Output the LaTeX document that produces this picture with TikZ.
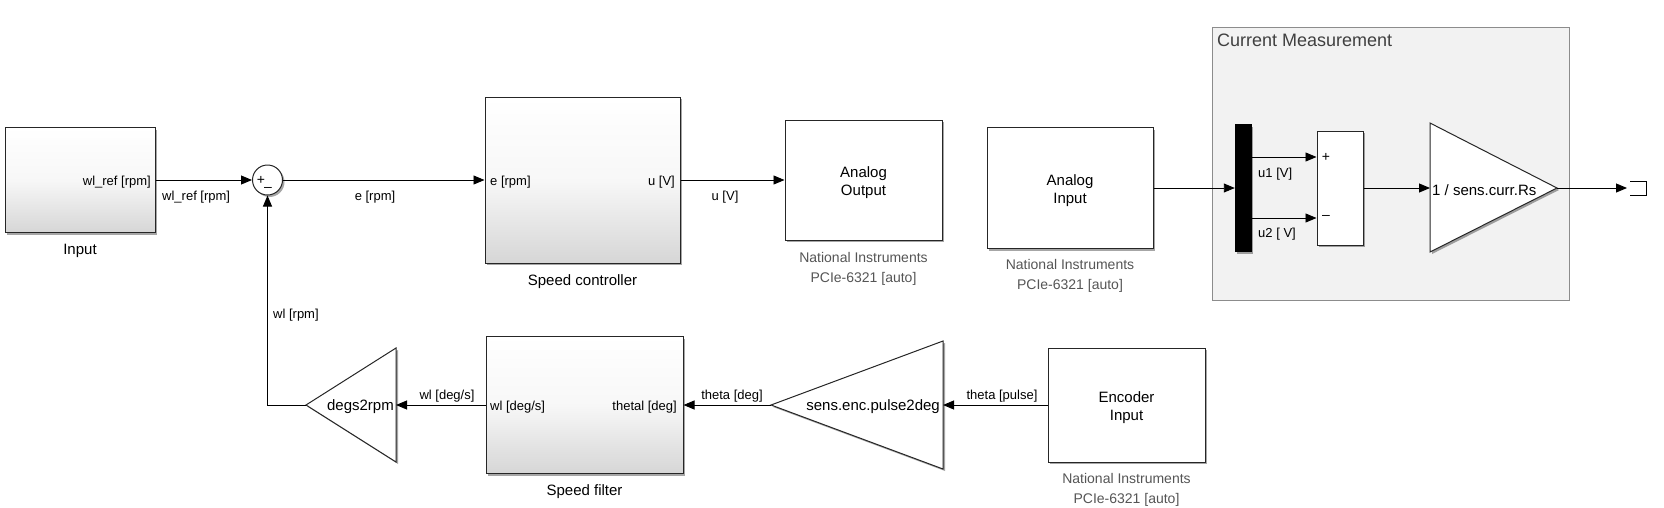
\documentclass[tikz,border=0pt]{standalone}
\usepackage{fontspec}
\setmainfont{Liberation Sans}
\usetikzlibrary{arrows.meta,shadows,calc}
\definecolor{cmfill}{HTML}{F2F2F2}
\definecolor{cmborder}{HTML}{8C8C8C}
\definecolor{nigray}{HTML}{555555}
\definecolor{titlegray}{HTML}{404040}
\definecolor{shadebot}{HTML}{D6D6D6}
\begin{document}
\begin{tikzpicture}[x=1pt,y=-1pt,
  sig/.style={draw=black, line width=0.9pt, -{Triangle[length=11pt,width=9pt]}},
  shad/.style={drop shadow={shadow xshift=2pt,shadow yshift=-2pt,opacity=0.35,fill=black}},
  blk/.style={draw=black!85, line width=1pt, fill=white, shad, inner sep=0pt},
  subsys/.style={blk, top color=white, bottom color=shadebot, middle color=white!97!black},
  btxt/.style={font=\fontsize{15}{18}\selectfont, align=center, inner sep=0pt, yshift=-2.5pt},
  lbl/.style={font=\fontsize{13}{15}\selectfont, inner sep=0pt, yshift=-2.5pt},
  bname/.style={font=\fontsize{15}{18}\selectfont, inner sep=0pt, yshift=-2.5pt},
  nilbl/.style={font=\fontsize{14}{20}\selectfont, text=nigray, align=center, inner sep=0pt, yshift=-2.5pt},
  gainlbl/.style={font=\fontsize{15}{18}\selectfont, inner sep=0pt, yshift=-2pt},
  pm/.style={font=\fontsize{14}{16}\selectfont, inner sep=0pt},
  tri/.style={draw=black!85, line width=1pt, fill=white, shad},
]
\useasboundingbox (0,0) rectangle (1664,507);

% Current Measurement area
\node[draw=cmborder, fill=cmfill, line width=0.9pt, minimum width=357pt, minimum height=273pt, inner sep=0pt] (cm) at (1390.5,163.5) {};
\node[font=\fontsize{18}{21}\selectfont, text=titlegray, anchor=west, inner sep=0pt] (cmtitle) at (1217,40) {Current Measurement};

% top row
\node[subsys, minimum width=150pt, minimum height=105pt] (input) at (80,180) {};
\node[lbl, anchor=east] (inputport) at (151,180) {wl\_ref [rpm]};
\node[bname] (inputname) at (80,248) {Input};

\node[circle, draw=black!85, line width=1pt, fill=white, shad, minimum size=30pt, inner sep=0pt] (sum) at (267.5,180) {};
\node[pm] (sumplus) at (261,180) {+};
\node[pm] (summinus) at (268,189) {–};

\node[subsys, minimum width=195pt, minimum height=166pt] (ctrl) at (582.5,180) {};
\node[lbl, anchor=west] (ctrlin) at (490,180) {e [rpm]};
\node[lbl, anchor=east] (ctrlout) at (675,180) {u [V]};
\node[bname] (ctrlname) at (582.5,279) {Speed controller};

\node[blk, minimum width=157pt, minimum height=120pt] (aout) at (863.5,180) {};
\node[btxt] (aouttxt) at (aout) {Analog\\Output};
\node[nilbl] (aoutni) at (863.5,266) {National Instruments\\PCIe-6321 [auto]};

\node[blk, minimum width=166pt, minimum height=121pt] (ain) at (1070,188) {};
\node[btxt] (aintxt) at (ain) {Analog\\Input};
\node[nilbl] (ainni) at (1070,273.5) {National Instruments\\PCIe-6321 [auto]};

\node[draw=black, fill=black, shad, minimum width=16pt, minimum height=127pt, inner sep=0pt] (mux) at (1243,188) {};
\node[blk, minimum width=46pt, minimum height=114pt] (diff) at (1340,188) {};
\node[pm] (diffplus) at (1326,157) {+};
\node[pm] (diffminus) at (1326,217) {–};

% gain 1 / sens.curr.Rs
\coordinate (gin) at (1430,188);
\coordinate (gtip) at (1557,188);
\draw[tri] (1430,123) -- (gtip) -- (1430,252) -- cycle;
\node[gainlbl, anchor=west] (gainlbl) at (1432,188) {1 / sens.curr.Rs};

% terminator
\coordinate (term) at (1627,188);
\draw[line width=0.9pt] ($(term)+(3,-7)$) -- ($(term)+(19,-7)$) -- ($(term)+(19,7)$) -- ($(term)+(3,7)$);

% bottom row
\node[blk, minimum width=157pt, minimum height=114pt] (enc) at (1126.5,405) {};
\node[btxt] (enctxt) at (enc) {Encoder\\Input};
\node[nilbl] (encni) at (1126.5,487) {National Instruments\\PCIe-6321 [auto]};

\coordinate (p2dtip) at (771,405);
\coordinate (p2din) at (943,405);
\draw[tri] (943,341) -- (p2dtip) -- (943,469) -- cycle;
\node[gainlbl, anchor=east] (p2dlbl) at (940,405) {sens.enc.pulse2deg};

\node[subsys, minimum width=197pt, minimum height=137pt] (filt) at (584.5,405) {};
\node[lbl, anchor=west] (filtout) at (490,405) {wl [deg/s]};
\node[lbl, anchor=east] (filtin) at (677,405) {thetal [deg]};
\node[bname] (filtname) at (584.5,489) {Speed filter};

\coordinate (d2rtip) at (306,405);
\coordinate (d2rin) at (396,405);
\draw[tri] (396,348) -- (d2rtip) -- (396,462) -- cycle;
\node[gainlbl, anchor=east] (d2rlbl) at (394,405) {degs2rpm};

% connectors
\draw[sig] (input.east) -- (sum.west);
\node[lbl, anchor=west] (l1) at (162,195) {wl\_ref [rpm]};
\draw[sig] (sum.east) -- (ctrl.west);
\node[lbl] (l2) at (375,195) {e [rpm]};
\draw[sig] (ctrl.east) -- (aout.west);
\node[lbl] (l3) at (725,195) {u [V]};
\draw[sig] (ain.east) -- (mux.west);
\draw[sig] (mux.east |- 0,157) -- (diff.west |- 0,157);
\node[lbl, anchor=west] (l4) at (1258,172) {u1 [V]};
\draw[sig] (mux.east |- 0,218) -- (diff.west |- 0,218);
\node[lbl, anchor=west] (l5) at (1258,232) {u2 [ V]};
\draw[sig] (diff.east) -- (gin);
\draw[sig] (gtip) -- (term);

\draw[sig] (enc.west) -- (p2din);
\node[lbl] (l6) at (1002,394) {theta [pulse]};
\draw[sig] (p2dtip) -- (filt.east);
\node[lbl] (l7) at (732,394) {theta [deg]};
\draw[sig] (filt.west) -- (d2rin);
\node[lbl] (l8) at (447,394) {wl [deg/s]};
\draw[sig] (d2rtip) -| (sum.south);
\node[lbl, anchor=west] (l9) at (273,313) {wl [rpm]};
\end{tikzpicture}
\end{document}
